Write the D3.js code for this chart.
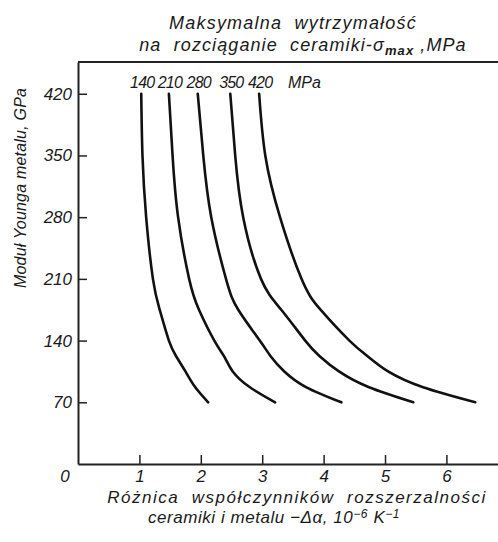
<!DOCTYPE html>
<html>
<head>
<meta charset="utf-8">
<script src="https://cdn.jsdelivr.net/npm/d3@7"></script>
<style>
  body { margin: 0; background: #fff; }
  svg text { font-family: "Liberation Sans", Arial, sans-serif; font-style: italic; fill: #1a1a1a; white-space: pre; }
</style>
</head>
<body>
<div id="main"></div>
<script>
// Young's modulus levels (GPa) where the curves were read
var modulus = [420, 350, 280, 210, 175, 140, 122, 105, 87, 70];

// ceramic tensile strength for each curve, MPa
var strengths = [140, 210, 280, 350, 420];

// delta alpha (10^-6 K^-1) at the modulus levels above
var da140 = [1.03, 1.05, 1.11, 1.22, 1.33, 1.48, 1.60, 1.75, 1.91, 2.12];
var da210 = [1.48, 1.54, 1.63, 1.81, 1.97, 2.22, 2.38, 2.52, 2.80, 3.21];
var da280 = [1.95, 2.04, 2.17, 2.41, 2.61, 2.96, 3.14, 3.36, 3.72, 4.29];
var da350 = [2.48, 2.56, 2.69, 2.98, 3.31, 3.70, 3.94, 4.25, 4.74, 5.46];
var da420 = [2.95, 3.05, 3.29, 3.64, 3.95, 4.42, 4.72, 5.05, 5.62, 6.47];

var xTicks = [1, 2, 3, 4, 5, 6];
var yTicks = [70, 140, 210, 280, 350, 420];

var W = 498, H = 542;

var x = d3.scaleLinear().domain([0, 6.84]).range([78, 498]);
var y = d3.scaleLinear().domain([0, 456]).range([464, 62]);

var svg = d3.select("#main").append("svg")
  .attr("width", W)
  .attr("height", H);

var series = [da140, da210, da280, da350, da420].map(function (arr, i) {
  return {
    strength: strengths[i],
    points: arr.map(function (v, j) { return { da: v, e: modulus[j] }; })
  };
});

// top frame line
svg.append("line")
  .attr("x1", 78).attr("x2", W)
  .attr("y1", y(456)).attr("y2", y(456))
  .attr("stroke", "#222").attr("stroke-width", 2);

// axes, ticks point inward
var xAxis = d3.axisBottom(x)
  .tickValues(xTicks)
  .tickFormat(d3.format("d"))
  .tickSizeInner(-9)
  .tickSizeOuter(0)
  .tickPadding(6);

var yAxis = d3.axisLeft(y)
  .tickValues(yTicks)
  .tickFormat(d3.format("d"))
  .tickSizeInner(-9)
  .tickSizeOuter(0)
  .tickPadding(6);

var gx = svg.append("g")
  .attr("transform", "translate(0," + y(0) + ")")
  .call(xAxis);

var gy = svg.append("g")
  .attr("transform", "translate(" + x(0) + ",0)")
  .call(yAxis);

[gx, gy].forEach(function (g) {
  g.select(".domain").attr("stroke", "#222").attr("stroke-width", 2);
  g.selectAll(".tick line").attr("stroke", "#222").attr("stroke-width", 1.5);
  g.selectAll(".tick text")
    .attr("fill", "#1a1a1a")
    .style("font-size", "17px")
    .style("font-family", "'Liberation Sans', Arial, sans-serif")
    .style("font-style", "italic");
});

// origin label
svg.append("text")
  .attr("x", 65).attr("y", 482)
  .attr("text-anchor", "middle")
  .style("font-size", "17px")
  .text("0");

// curves
var line = d3.line()
  .x(function (d) { return x(d.da); })
  .y(function (d) { return y(d.e); })
  .curve(d3.curveNatural);

svg.selectAll(".curve")
  .data(series)
  .enter().append("path")
  .attr("class", "curve")
  .attr("d", function (d) { return line(d.points); })
  .attr("fill", "none")
  .attr("stroke", "#111")
  .attr("stroke-width", 2.6)
  .attr("stroke-linecap", "round");

// curve labels above the start of each curve
svg.selectAll(".clabel")
  .data(series)
  .enter().append("text")
  .attr("class", "clabel")
  .attr("x", function (d) { return x(d.points[0].da) + 1; })
  .attr("y", 88)
  .attr("text-anchor", "middle")
  .style("font-size", "16px")
  .style("letter-spacing", "-0.8px")
  .text(function (d) { return d.strength; });

svg.append("text")
  .attr("x", 288).attr("y", 88)
  .style("font-size", "16px")
  .text("MPa");

// title above the frame
svg.append("text")
  .attr("x", 293).attr("y", 29)
  .attr("text-anchor", "middle")
  .style("font-size", "18px")
  .style("letter-spacing", "1.2px")
  .text("Maksymalna  wytrzymałość");

var t2 = svg.append("text")
  .attr("x", 303).attr("y", 51)
  .attr("text-anchor", "middle")
  .style("font-size", "18px")
  .style("letter-spacing", "1.1px");
t2.append("tspan").text("na  rozciąganie  ceramiki-σ");
t2.append("tspan").attr("dy", 4).style("font-size", "13px").style("font-weight", "bold").text("max");
t2.append("tspan").attr("dy", -4).text(" ,MPa");

// y title
svg.append("text")
  .attr("transform", "translate(26,188) rotate(-90)")
  .attr("text-anchor", "middle")
  .style("font-size", "16px")
  .style("letter-spacing", "0.2px")
  .text("Moduł Younga metalu, GPa");

// x title, two lines
svg.append("text")
  .attr("x", 297).attr("y", 503)
  .attr("text-anchor", "middle")
  .style("font-size", "17px")
  .style("letter-spacing", "1.5px")
  .text("Różnica  współczynników  rozszerzalności");

var t3 = svg.append("text")
  .attr("x", 274).attr("y", 523)
  .attr("text-anchor", "middle")
  .style("font-size", "17px")
  .style("letter-spacing", "0.55px");
t3.append("tspan").text("ceramiki i metalu −Δα, 10");
t3.append("tspan").attr("dy", -5).style("font-size", "12px").text("−6");
t3.append("tspan").attr("dy", 5).text(" K");
t3.append("tspan").attr("dy", -5).style("font-size", "12px").text("−1");
</script>
</body>
</html>
